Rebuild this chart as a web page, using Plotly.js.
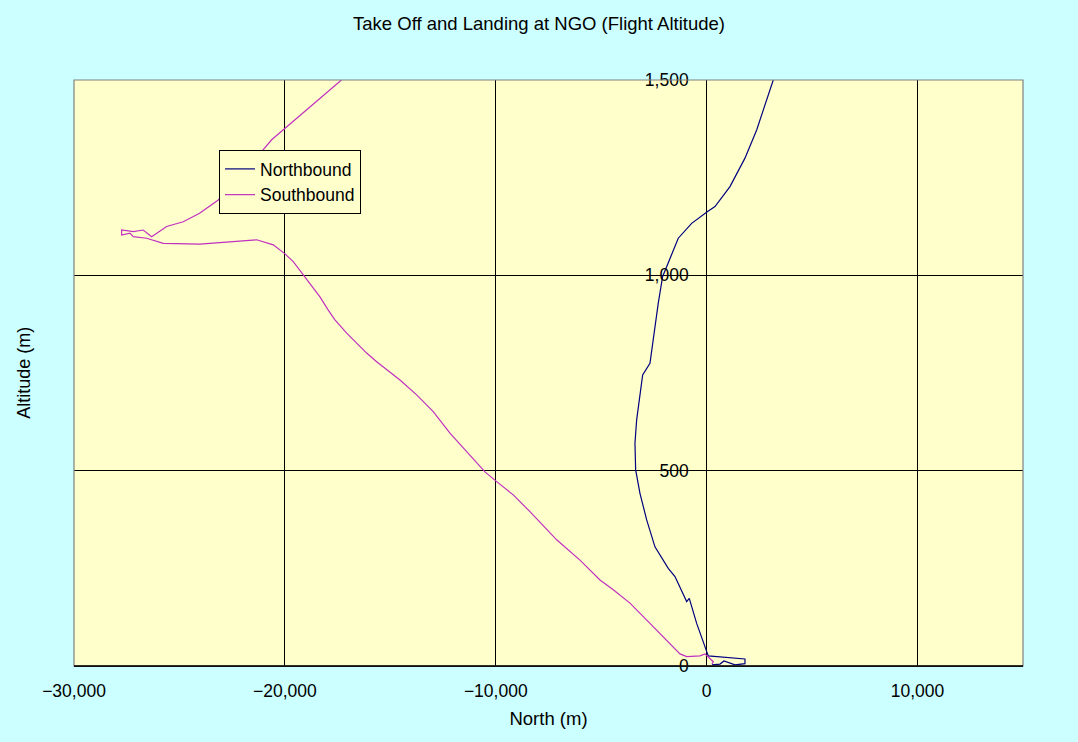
<!DOCTYPE html>
<html>
<head>
<meta charset="utf-8">
<script src="https://cdn.plot.ly/plotly-3.0.1.min.js"></script>
<style>html,body{margin:0;padding:0;background:#CCFFFF;}#chart{width:1078px;height:742px;}</style>
</head>
<body>
<div id="chart"></div>
<script>
const chartTitle = "Take Off and Landing at NGO (Flight Altitude)";
const xTitle = "North (m)";
const yTitle = "Altitude (m)";
const seriesNames = ["Northbound", "Southbound"];

const northX = [3158, 2845, 2371, 1816, 1105, 394, 28, -711, -1347, -1897, -2087, -2295, -2689, -3035, -3320, -3400, -3367, -3163, -2845, -2452, -1821, -1503, -948, -825, -474, 28, 76, 1816, 1816, 1342, 1010, 820, 631, 251];
const northY = [1500, 1449, 1372, 1300, 1227, 1176, 1163, 1133, 1095, 1022, 997, 929, 775, 745, 630, 570, 502, 442, 374, 305, 250, 229, 165, 173, 109, 33, 26, 18, 6, 3, 10, 13, 5, 3];

const southX = [-17318, -18432, -19523, -20628, -21974, -23160, -24045, -24820, -25607, -26318, -26717, -27191, -27741, -27741, -27348, -27191, -26556, -25768, -24028, -22449, -21339, -20552, -19997, -19603, -19129, -18811, -18337, -17944, -17626, -17071, -16123, -15649, -14543, -13752, -12965, -12173, -11381, -10513, -9958, -9171, -8379, -7113, -6008, -5060, -4429, -3637, -2689, -2058, -1266, -948, -318, -81, 76, 313, 251];
const southY = [1500, 1449, 1398, 1347, 1261, 1193, 1159, 1137, 1125, 1099, 1116, 1112, 1116, 1103, 1108, 1099, 1095, 1082, 1080, 1086, 1091, 1078, 1055, 1035, 1001, 980, 945, 911, 886, 852, 801, 779, 732, 694, 651, 596, 549, 497, 472, 438, 395, 323, 271, 220, 195, 161, 109, 75, 31, 24, 26, 31, 24, 11, 5];

const xTickVals = [-30000, -20000, -10000, 0, 10000];
const yTickVals = [0, 500, 1000, 1500];

const font = "'Liberation Sans', Arial, sans-serif";

const traces = [
  {x: northX, y: northY, name: seriesNames[0], type: "scatter", mode: "lines",
   line: {color: "#000080", width: 1.2}},
  {x: southX, y: southY, name: seriesNames[1], type: "scatter", mode: "lines",
   line: {color: "#C030C0", width: 1.2}}
];

const layout = {
  width: 1078, height: 742,
  paper_bgcolor: "#CCFFFF", plot_bgcolor: "#FFFFCC",
  margin: {l: 74, r: 55, t: 80, b: 76},
  font: {family: font, size: 18, color: "#000000"},
  title: {text: chartTitle, x: 0.5, xanchor: "center", y: 0.968, yanchor: "middle",
          font: {family: font, size: 18.5, color: "#000000"}},
  showlegend: true,
  legend: {x: 0.1528, y: 0.8805, xanchor: "left", yanchor: "top",
           bgcolor: "#FFFFCC", bordercolor: "#000000", borderwidth: 1,
           font: {family: font, size: 17.5}, tracegroupgap: 0},
  xaxis: {
    range: [-30000, 15000], tickvals: xTickVals, tickformat: ",",
    showgrid: true, gridcolor: "#000000", gridwidth: 1, zeroline: false,
    showline: true, linecolor: "#000000", linewidth: 1, ticks: "",
    ticklabelstandoff: 9,
    tickfont: {family: font, size: 17.5},
    title: {text: xTitle, standoff: 12, font: {family: font, size: 18.5}}
  },
  yaxis: {
    range: [0, 1500], tickvals: yTickVals, tickformat: ",",
    anchor: "free", position: 30000 / 45000,
    showgrid: true, gridcolor: "#000000", gridwidth: 1, zeroline: false,
    showline: false, ticks: "",
    ticklabelstandoff: 18,
    tickfont: {family: font, size: 17.5}
  },
  shapes: [
    {type: "rect", xref: "paper", yref: "paper", x0: 0, x1: 1, y0: 0, y1: 1,
     line: {color: "#808080", width: 1.2}, layer: "above"},
    {type: "line", xref: "paper", yref: "paper", x0: 0, x1: 1, y0: 0, y1: 0,
     line: {color: "#000000", width: 1.5}, layer: "above"}
  ],
  annotations: [
    {text: yTitle, xref: "paper", yref: "paper", x: -0.053, y: 0.5,
     xanchor: "center", yanchor: "middle", textangle: -90, showarrow: false,
     font: {family: font, size: 18}}
  ]
};

Plotly.newPlot("chart", traces, layout, {displayModeBar: false, staticPlot: true});
</script>
</body>
</html>
